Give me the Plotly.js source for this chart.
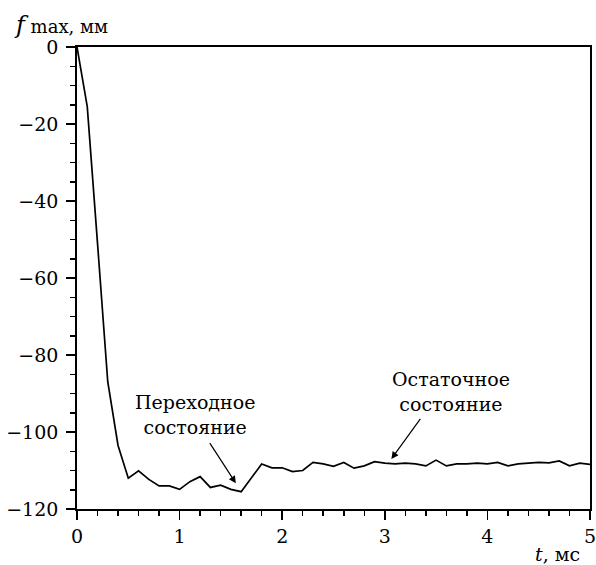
<!DOCTYPE html>
<html>
<head>
<meta charset="utf-8">
<script src="https://cdn.plot.ly/plotly-3.0.1.min.js"></script>
<style>
  html, body { margin: 0; padding: 0; background: #fff; }
  #chart { width: 596px; height: 565px; }
</style>
</head>
<body>
<div id="chart"></div>
<script>
// Time, ms
const timeMs = [
  0.0, 0.1, 0.2, 0.3, 0.4, 0.5, 0.6, 0.7, 0.8, 0.9,
  1.0, 1.1, 1.2, 1.3, 1.4, 1.5, 1.6, 1.7, 1.8, 1.9,
  2.0, 2.1, 2.2, 2.3, 2.4, 2.5, 2.6, 2.7, 2.8, 2.9,
  3.0, 3.1, 3.2, 3.3, 3.4, 3.5, 3.6, 3.7, 3.8, 3.9,
  4.0, 4.1, 4.2, 4.3, 4.4, 4.5, 4.6, 4.7, 4.8, 4.9,
  5.0
];
// Maximum deflection, mm
const fMax = [
  0.0, -15.5, -51.0, -87.0, -103.5, -112.0, -110.1, -112.3, -114.0, -114.0,
  -114.9, -112.9, -111.6, -114.4, -113.8, -114.9, -115.5, -111.8, -108.3, -109.3,
  -109.3, -110.3, -110.0, -107.9, -108.3, -108.9, -107.9, -109.4, -108.8, -107.7,
  -108.1, -108.3, -108.1, -108.3, -108.8, -107.3, -108.8, -108.3, -108.3, -108.1,
  -108.3, -107.9, -108.8, -108.3, -108.1, -107.9, -108.0, -107.5, -108.8, -108.1,
  -108.4
];
const xTicks = [0, 1, 2, 3, 4, 5];
const yTicks = [0, -20, -40, -60, -80, -100, -120];

const serif = 'DejaVu Serif';
const tickFont = { family: serif, size: 19, color: '#000' };
const noteFont = { family: serif, size: 19, color: '#000' };

const trace = {
  x: timeMs,
  y: fMax,
  type: 'scatter',
  mode: 'lines',
  line: { color: '#000', width: 1.7 },
  hoverinfo: 'skip'
};

const axisCommon = {
  showgrid: false,
  zeroline: false,
  showline: true,
  linecolor: '#000',
  linewidth: 1.8,
  mirror: true,
  ticks: 'outside',
  ticklen: 9,
  tickwidth: 1.6,
  tickcolor: '#000',
  tickfont: tickFont,
  ticklabeloverflow: 'allow'
};

const layout = {
  width: 596,
  height: 565,
  paper_bgcolor: '#fff',
  plot_bgcolor: '#fff',
  font: { family: serif, color: '#000' },
  showlegend: false,
  margin: { l: 77, r: 6, t: 47, b: 56 },
  xaxis: Object.assign({}, axisCommon, {
    range: [0, 5],
    tickvals: xTicks,
    ticktext: xTicks.map(String),
    minor: { dtick: 0.2, ticks: 'outside', ticklen: 5, tickwidth: 1.5, tickcolor: '#000', showgrid: false }
  }),
  yaxis: Object.assign({}, axisCommon, {
    range: [-120, 0],
    tickvals: yTicks,
    ticktext: yTicks.map(v => v < 0 ? '\u2212' + Math.abs(v) : String(v)),
    ticklabelstandoff: 4,
    minor: { dtick: 5, ticks: 'outside', ticklen: 5, tickwidth: 1.5, tickcolor: '#000', showgrid: false }
  }),
  annotations: [
    // axis captions
    { xref: 'paper', yref: 'paper', x: 0, y: 1, xanchor: 'left', yanchor: 'bottom',
      xshift: -65, yshift: 6, showarrow: false,
      text: '<span style="font-size:24px"><i>f</i></span> max, мм',
      font: { family: serif, size: 18, color: '#000' } },
    { xref: 'paper', yref: 'paper', x: 1, y: 0, xanchor: 'right', yanchor: 'top',
      xshift: -8, yshift: -32, showarrow: false,
      text: '<i>t</i>, мс', font: tickFont },
    // state labels
    { xref: 'x', yref: 'y', x: 1.146, y: -95.4, showarrow: false,
      text: 'Переходное<br>состояние', font: noteFont },
    { xref: 'x', yref: 'y', x: 3.642, y: -89.5, showarrow: false,
      text: 'Остаточное<br>состояние', font: noteFont },
    // pointer arrows
    { xref: 'x', yref: 'y', axref: 'x', ayref: 'y',
      x: 1.548, y: -113.3, ax: 1.285, ay: -102.5,
      text: '', showarrow: true, arrowhead: 2, arrowsize: 1.2, arrowwidth: 1.2,
      arrowcolor: '#000', standoff: 0, startstandoff: 0 },
    { xref: 'x', yref: 'y', axref: 'x', ayref: 'y',
      x: 3.064, y: -107.0, ax: 3.357, ay: -96.2,
      text: '', showarrow: true, arrowhead: 2, arrowsize: 1.2, arrowwidth: 1.2,
      arrowcolor: '#000', standoff: 0, startstandoff: 0 }
  ]
};

Plotly.newPlot('chart', [trace], layout, { displayModeBar: false, staticPlot: true });
</script>
</body>
</html>
